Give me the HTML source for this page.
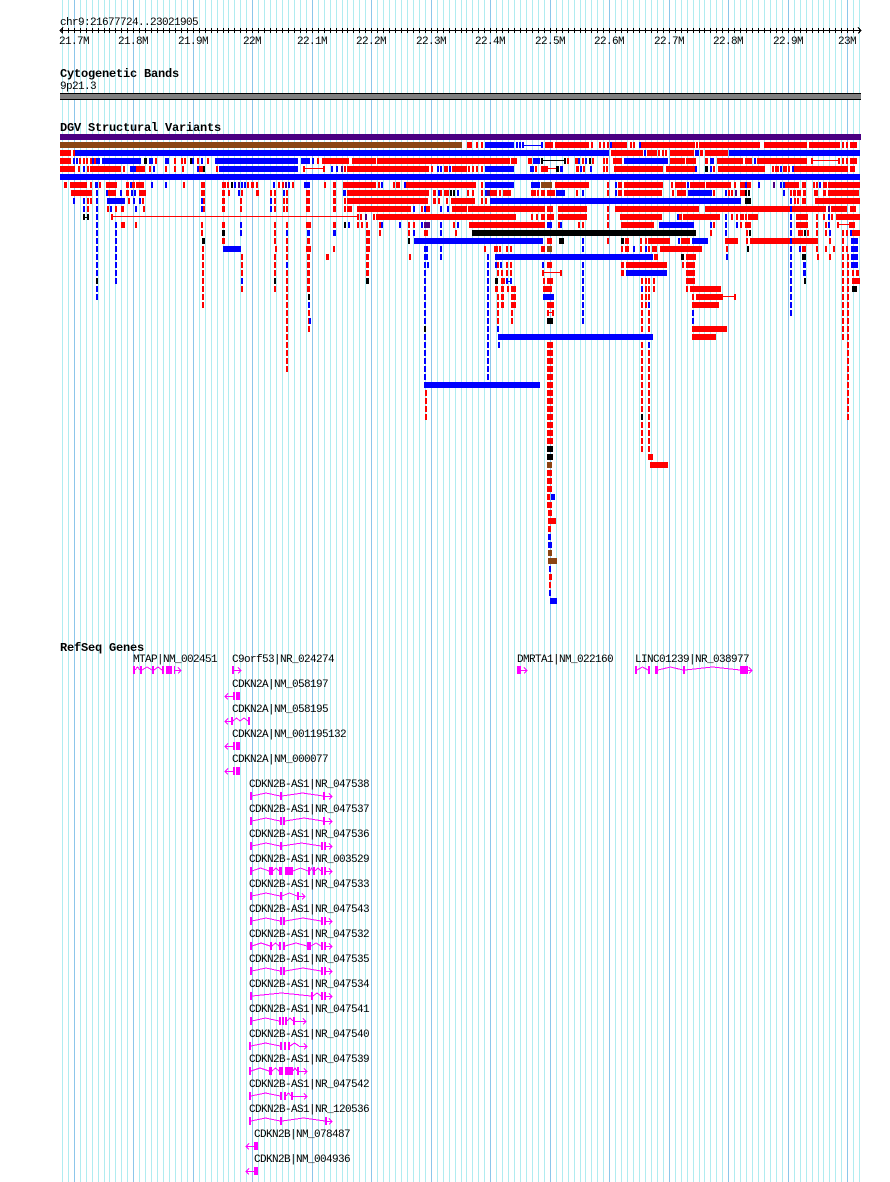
<!DOCTYPE html>
<html><head><meta charset="utf-8"><style>
html,body{margin:0;padding:0;background:#fff;}
svg{display:block;}
.t{font-family:"Liberation Mono",monospace;font-size:11px;letter-spacing:-0.6px;fill:#000;}
.b{font-family:"Liberation Mono",monospace;font-size:12px;font-weight:bold;letter-spacing:-0.2px;fill:#000;}
</style></head><body>
<svg width="890" height="1182" viewBox="0 0 890 1182" xmlns="http://www.w3.org/2000/svg" shape-rendering="crispEdges">
<defs>
<path id="mn" d="M62 0V1182M68 0V1182M80 0V1182M86 0V1182M92 0V1182M98 0V1182M104 0V1182M109 0V1182M115 0V1182M121 0V1182M127 0V1182M139 0V1182M145 0V1182M151 0V1182M157 0V1182M163 0V1182M169 0V1182M175 0V1182M181 0V1182M187 0V1182M199 0V1182M205 0V1182M211 0V1182M217 0V1182M223 0V1182M228 0V1182M234 0V1182M240 0V1182M246 0V1182M258 0V1182M264 0V1182M270 0V1182M276 0V1182M282 0V1182M288 0V1182M294 0V1182M300 0V1182M306 0V1182M318 0V1182M324 0V1182M330 0V1182M336 0V1182M342 0V1182M347 0V1182M353 0V1182M359 0V1182M365 0V1182M377 0V1182M383 0V1182M389 0V1182M395 0V1182M401 0V1182M407 0V1182M413 0V1182M419 0V1182M425 0V1182M437 0V1182M443 0V1182M449 0V1182M455 0V1182M461 0V1182M466 0V1182M472 0V1182M478 0V1182M484 0V1182M496 0V1182M502 0V1182M508 0V1182M514 0V1182M520 0V1182M526 0V1182M532 0V1182M538 0V1182M544 0V1182M556 0V1182M562 0V1182M568 0V1182M574 0V1182M580 0V1182M585 0V1182M591 0V1182M597 0V1182M603 0V1182M615 0V1182M621 0V1182M627 0V1182M633 0V1182M639 0V1182M645 0V1182M651 0V1182M657 0V1182M663 0V1182M675 0V1182M681 0V1182M687 0V1182M693 0V1182M699 0V1182M704 0V1182M710 0V1182M716 0V1182M722 0V1182M734 0V1182M740 0V1182M746 0V1182M752 0V1182M758 0V1182M764 0V1182M770 0V1182M776 0V1182M782 0V1182M794 0V1182M800 0V1182M806 0V1182M812 0V1182M818 0V1182M823 0V1182M829 0V1182M835 0V1182M841 0V1182M853 0V1182M859 0V1182"/>
<path id="mj" d="M74 0V1182M133 0V1182M193 0V1182M252 0V1182M312 0V1182M371 0V1182M431 0V1182M490 0V1182M550 0V1182M609 0V1182M669 0V1182M728 0V1182M788 0V1182M847 0V1182"/>
<clipPath id="tk"><rect x="60" y="28" width="801" height="5"/></clipPath>
</defs>
<rect width="890" height="1182" fill="#fff"/>
<g transform="translate(.5 0)" fill="none">
<use href="#mn" stroke="#b0ecf0"/>
<use href="#mj" stroke="#8cc6ea"/>
</g>
<g transform="translate(.5 0)" fill="none" clip-path="url(#tk)">
<use href="#mn" stroke="#000"/>
<use href="#mj" stroke="#000"/>
</g>
<path d="M60 30.5H861M63 27.5L60 30.5L63 33.5M858 27.5L861 30.5L858 33.5" stroke="#000" fill="none"/>

<text class="t" x="60" y="25">chr9:21677724..23021905</text>
<g class="t" text-anchor="middle">
<text x="74" y="44">21.7M</text><text x="133" y="44">21.8M</text><text x="193" y="44">21.9M</text><text x="252" y="44">22M</text><text x="312" y="44">22.1M</text><text x="371" y="44">22.2M</text><text x="431" y="44">22.3M</text><text x="490" y="44">22.4M</text><text x="550" y="44">22.5M</text><text x="609" y="44">22.6M</text><text x="669" y="44">22.7M</text><text x="728" y="44">22.8M</text><text x="788" y="44">22.9M</text><text x="847" y="44">23M</text>
</g>

<text class="b" x="60" y="77">Cytogenetic Bands</text>
<text class="t" x="60" y="89">9p21.3</text>
<rect x="60" y="93" width="801" height="7" fill="#000"/>
<rect x="60" y="94" width="801" height="5" fill="#808080"/>

<text class="b" x="60" y="131">DGV Structural Variants</text>

<!-- RED -->
<path fill="none" stroke="#ff0000" stroke-width="6" d="M467 145h5M476 145h2M481 145h2M545 145h8M555 145h34M591 145h2M599 145h2M603 145h2M607 145h2M612 145h15M630 145h2M633 145h2M641 145h54M696 145h2M699 145h61M764 145h43M809 145h31M842 145h2M846 145h2M850 145h7
M60 153h11M73 153h2M611 153h32M647 153h10M658 153h2M662 153h2M665 153h2M670 153h24M700 153h3M705 153h23
M60 161h11M79 161h2M83 161h2M86 161h2M90 161h2M94 161h2M155 161h2M174 161h2M181 161h2M184 161h2M197 161h2M207 161h2M317 161h2M322 161h27M352 161h24M377 161h133M511 161h6M528 161h4M567 161h2M575 161h3M582 161h2M592 161h2M603 161h2M606 161h2M613 161h9M670 161h15M686 161h10M705 161h3M717 161h26M745 161h7M757 161h50M811 161h2M838 161h2M842 161h2M846 161h2M850 161h7
M60 169h15M78 169h2M87 169h2M90 169h31M123 169h2M136 169h9M149 169h2M165 169h2M174 169h2M182 169h2M199 169h4M216 169h2M303 169h2M323 169h2M344 169h2M347 169h82M431 169h2M444 169h4M452 169h15M468 169h2M472 169h2M476 169h2M481 169h2M535 169h2M541 169h7M576 169h3M583 169h2M603 169h2M606 169h2M614 169h49M666 169h29M713 169h2M718 169h47M772 169h2M775 169h4M783 169h4M788 169h2M794 169h54M850 169h5
M64 185h3M70 185h17M90 185h2M99 185h2M106 185h11M126 185h3M132 185h3M136 185h8M183 185h2M201 185h4M222 185h4M227 185h2M247 185h2M251 185h3M256 185h2M278 185h2M282 185h2M292 185h2M324 185h2M333 185h3M343 185h33M378 185h2M393 185h2M396 185h4M406 185h70M481 185h2M555 185h34M607 185h2M618 185h4M624 185h39M671 185h2M675 185h11M690 185h15M706 185h25M734 185h2M740 185h5M747 185h4M785 185h14M802 185h4M813 185h2M816 185h2M823 185h4M828 185h32
M71 193h21M108 193h8M126 193h3M139 193h7M201 193h4M222 193h3M228 193h2M241 193h2M256 193h3M270 193h2M274 193h2M286 193h2M306 193h4M333 193h3M347 193h82M433 193h3M440 193h2M444 193h5M467 193h2M472 193h2M481 193h2M490 193h7M499 193h2M503 193h8M531 193h5M537 193h2M541 193h4M547 193h8M576 193h2M607 193h2M618 193h4M624 193h38M672 193h2M677 193h9M713 193h2M728 193h2M731 193h2M740 193h6M790 193h2M793 193h3M797 193h4M803 193h3M814 193h4M823 193h3M828 193h31
M87 201h2M90 201h2M128 201h2M142 201h2M203 201h2M222 201h3M240 201h2M274 201h2M283 201h2M286 201h2M306 201h4M333 201h3M344 201h2M347 201h81M433 201h3M438 201h2M446 201h2M451 201h24M481 201h2M485 201h2M794 201h2M797 201h2M802 201h4M815 201h45
M87 209h2M107 209h2M115 209h2M121 209h3M143 209h2M203 209h2M222 209h3M240 209h2M274 209h2M283 209h2M286 209h2M306 209h4M333 209h3M344 209h2M347 209h5M357 209h54M421 209h2M426 209h4M452 209h15M468 209h77M547 209h6M558 209h29M607 209h2M615 209h84M705 209h121M831 209h16M850 209h6
M111 217h2M357 217h2M360 217h2M373 217h2M376 217h140M531 217h2M536 217h2M541 217h4M547 217h7M558 217h29M607 217h2M620 217h42M679 217h3M683 217h37M731 217h2M736 217h2M740 217h4M745 217h2M748 217h10M796 217h12M816 217h2M823 217h2M831 217h2M836 217h24
M121 225h4M135 225h2M201 225h2M222 225h3M274 225h2M286 225h2M306 225h5M333 225h3M357 225h2M361 225h2M366 225h2M379 225h2M408 225h2M413 225h2M453 225h2M469 225h76M558 225h2M578 225h2M582 225h2M607 225h2M621 225h33M713 225h2M740 225h2M745 225h6M796 225h12M816 225h2M825 225h2M837 225h2M849 225h2M851 225h4
M201 233h2M274 233h2M366 233h4M379 233h2M408 233h2M424 233h4M455 233h2M710 233h2M746 233h2M798 233h5M807 233h2M816 233h2M825 233h2M842 233h2M846 233h2M852 233h8
M222 241h3M274 241h2M286 241h2M307 241h3M366 241h4M547 241h5M607 241h2M625 241h4M640 241h2M645 241h2M648 241h22M681 241h9M725 241h13M746 241h2M750 241h68M829 241h2M842 241h2
M202 249h2M275 249h2M286 249h2M306 249h5M333 249h2M366 249h4M484 249h2M494 249h4M499 249h2M506 249h2M510 249h2M541 249h4M621 249h2M625 249h4M640 249h2M648 249h2M652 249h5M660 249h42M726 249h2M802 249h4M816 249h2M825 249h2M833 249h2M842 249h2M846 249h2
M326 257h3M409 257h2M654 257h4M686 257h10M817 257h2M829 257h2
M497 265h2M506 265h2M510 265h2M547 265h5M621 265h3M626 265h41M682 265h2M686 265h9
M497 273h2M501 273h2M506 273h2M510 273h2M542 273h2M560 273h2M621 273h3M686 273h9M852 273h2M856 273h3
M501 281h4M543 281h2M547 281h6M653 281h2M686 281h9M852 281h8
M495 289h3M501 289h3M507 289h2M511 289h5M543 289h9M653 289h2M686 289h2M690 289h31
M497 297h2M501 297h3M511 297h5M692 297h2M696 297h27M734 297h2
M497 305h2M501 305h3M511 305h5M547 305h7M692 305h27
M497 313h2M511 313h2M547 313h2M552 313h2
M497 321h2M511 321h2
M692 329h35M692 337h24
M649 457h4M650 465h18
M547 473h5M547 481h5M547 489h5M547 497h3M547 505h5M548 513h4M548 521h8M548 529h3M549 577h3M549 585h2"/>
<path fill="none" stroke="#ff0000" stroke-width="1" d="M811 160.5h29M305 168.5h18M548 168.5h8M113 216.5h244M837 224.5h13M542 272.5h20M723 296.5h12M549 312.5h3"/>
<path fill="none" stroke="#ff0000" stroke-width="2" stroke-dasharray="6 2" d="M203 254V308M242 254V292M275 254V292M287 254V372M646 278V308M642 278V452M649 278V460M848 254V420M843 254V340M426 390V420M309 294V332"/>
<path fill="none" stroke="#ff0000" stroke-width="3" stroke-dasharray="6 2" d="M308.5 254V292M367.5 254V276"/>
<path fill="none" stroke="#ff0000" stroke-width="6" stroke-dasharray="6 2" d="M550 342V460"/>

<!-- BLUE -->
<path fill="none" stroke="#0000ff" stroke-width="2" stroke-dasharray="6 2" d="M97 182V300M116 222V284M425 262V380M488 254V380M583 238V324M791 198V316"/>
<path fill="none" stroke="#0000ff" stroke-width="6" d="M485 145h29M516 145h2M519 145h2M522 145h2M541 145h2M610 145h2M639 145h2
M75 153h534M644 153h2M695 153h4M729 153h131
M73 161h2M76 161h2M92 161h2M96 161h4M102 161h39M149 161h4M165 161h4M192 161h2M201 161h2M215 161h83M301 161h9M312 161h2M533 161h7M578 161h2M585 161h2M624 161h44M710 161h4M754 161h2
M83 169h2M130 169h6M153 169h2M197 169h2M219 169h79M331 169h2M336 169h2M437 169h2M440 169h2M449 169h2M485 169h29M530 169h4M560 169h3M580 169h2M590 169h2M695 169h2M710 169h2M780 169h2M792 169h2
M60 177h800
M95 185h3M130 185h2M151 185h2M165 185h2M234 185h2M241 185h2M244 185h2M273 185h2M288 185h2M304 185h6M381 185h2M404 185h2M485 185h29M531 185h9M615 185h2M687 185h2M745 185h2M758 185h2M780 185h2M783 185h2M819 185h2
M106 193h2M120 193h2M131 193h2M134 193h2M238 193h2M283 193h2M343 193h3M438 193h2M457 193h2M485 193h2M556 193h9M582 193h2M615 193h2M688 193h24M725 193h2M783 193h2
M73 201h2M83 201h2M107 201h18M133 201h2M139 201h2M201 201h2M270 201h2M490 201h251
M83 209h2M110 209h2M135 209h2M201 209h2M270 209h2M413 209h2M424 209h2M440 209h2M447 209h2
M677 217h2M725 217h2M828 217h2
M240 225h2M348 225h2M381 225h2M399 225h2M421 225h2M440 225h2M457 225h2M547 225h5M560 225h2M659 225h35M710 225h2M725 225h2M736 225h2M828 225h2
M240 233h2M286 233h2M307 233h3M333 233h3M413 233h2M440 233h2M725 233h2M829 233h2M850 233h2
M414 241h129M678 241h2M692 241h16M851 241h7
M223 249h18M424 249h4M440 249h2M633 249h2M645 249h2M799 249h2M851 249h7
M424 257h4M440 257h2M495 257h158M726 257h2M851 257h7
M424 265h2M427 265h2M495 265h2M500 265h2M542 265h2M851 265h7M286 265h2M803 265h3
M626 273h41M803 273h3
M506 281h2M510 281h2M241 281h2
M641 289h2M543 297h11M308 305h2M648 305h2M692 313h2M692 321h2M309 321h2M497 329h2
M498 337h155M498 345h2M648 345h2M424 385h116
M551 497h4M548 537h3M548 545h4M549 569h2M549 593h2M550 601h7"/>
<path fill="none" stroke="#0000ff" stroke-width="1" d="M522 145.5h21M506 281.5h6"/>

<!-- BLACK -->
<path fill="none" stroke="#000" stroke-width="6" d="M144 161h3M190 161h2M589 161h2M541 161h2M564 161h2M203 169h2M556 169h3M705 169h3M231 185h2M450 193h2M453 193h2M745 193h2M748 193h2M745 201h6M83 217h2M87 217h2M344 225h2M222 233h3M472 233h224M749 233h2M804 233h2M202 241h3M408 241h2M559 241h5M621 241h3M747 249h2M681 257h3M802 257h4M495 281h3M804 281h2M96 281h2M274 281h2M366 281h3M852 289h5M308 297h2M547 321h6M424 329h2M641 417h2M547 449h6M547 457h6"/>
<path fill="none" stroke="#000" stroke-width="1" d="M541 160.5h25M83 217.5h6"/>

<!-- BROWN / PURPLE -->
<path fill="none" stroke="#8b4513" stroke-width="6" d="M60 145h402M541 185h11M547 249h5M547 465h5M548 553h4M548 561h9"/>
<path fill="none" stroke="#4b0082" stroke-width="6" d="M60 137h801M341 169h2M238 185h2M285 185h2M773 185h2M487 193h3M735 193h2M828 209h2M365 217h2M424 225h6"/>

<!-- GENES -->
<text class="b" x="60" y="651">RefSeq Genes</text>
<g class="t">
<text x="133" y="662">MTAP|NM_002451</text>
<text x="232" y="662">C9orf53|NR_024274</text>
<text x="517" y="662">DMRTA1|NM_022160</text>
<text x="635" y="662">LINC01239|NR_038977</text>
<text x="232" y="687">CDKN2A|NM_058197</text>
<text x="232" y="712">CDKN2A|NM_058195</text>
<text x="232" y="737">CDKN2A|NM_001195132</text>
<text x="232" y="762">CDKN2A|NM_000077</text>
<text x="249" y="787">CDKN2B-AS1|NR_047538</text>
<text x="249" y="812">CDKN2B-AS1|NR_047537</text>
<text x="249" y="837">CDKN2B-AS1|NR_047536</text>
<text x="249" y="862">CDKN2B-AS1|NR_003529</text>
<text x="249" y="887">CDKN2B-AS1|NR_047533</text>
<text x="249" y="912">CDKN2B-AS1|NR_047543</text>
<text x="249" y="937">CDKN2B-AS1|NR_047532</text>
<text x="249" y="962">CDKN2B-AS1|NR_047535</text>
<text x="249" y="987">CDKN2B-AS1|NR_047534</text>
<text x="249" y="1012">CDKN2B-AS1|NR_047541</text>
<text x="249" y="1037">CDKN2B-AS1|NR_047540</text>
<text x="249" y="1062">CDKN2B-AS1|NR_047539</text>
<text x="249" y="1087">CDKN2B-AS1|NR_047542</text>
<text x="249" y="1112">CDKN2B-AS1|NR_120536</text>
<text x="254" y="1137">CDKN2B|NM_078487</text>
<text x="254" y="1162">CDKN2B|NM_004936</text>
</g>
<path fill="none" stroke="#ff00ff" stroke-width="8" d="M133 670h2M140 670h2M152 670h2M162 670h2M166 670h6M174 670h1
M232 670h2M517 670h4
M635 670h2M648 670h2M655 670h3M683 670h2M740 670h8
M233 696h2M236 696h4
M231 721h2M248 721h2
M233 746h2M236 746h4
M233 771h2M236 771h4
M250 796h2M280 796h2M323 796h2
M250 821h2M280 821h2M283 821h2M323 821h2
M250 846h2M280 846h2M321 846h2M324 846h2
M250 871h2M269 871h4M279 871h3M285 871h8M308 871h2M313 871h2M321 871h2M324 871h2
M250 896h2M280 896h2M297 896h2
M250 921h2M280 921h2M283 921h2M321 921h2M324 921h2
M250 946h2M270 946h2M279 946h2M283 946h2M307 946h4M321 946h2M324 946h2
M250 971h2M280 971h2M283 971h2M321 971h2M324 971h2
M250 996h2M311 996h2M321 996h2M324 996h2
M250 1021h2M279 1021h2M282 1021h2M285 1021h2M293 1021h2
M249 1046h2M280 1046h2M284 1046h2M288 1046h2
M249 1071h2M269 1071h3M279 1071h4M285 1071h8M297 1071h2
M249 1096h2M280 1096h2M284 1096h2M291 1096h2
M249 1121h2M280 1121h2M325 1121h2
M254 1146h4M254 1171h4"/>
<path fill="none" stroke="#ff00ff" stroke-width="1" d="M135 670L137.5 667L140 670M142 670L147 667L152 670M154 670L158 667L162 670M175 670.5H181M178 667.5L181 670.5L178 673.5
M234 670.5H241M238 667.5L241 670.5L238 673.5
M521 670.5H527M524 667.5L527 670.5L524 673.5
M637 670L642.5 667L648 670M658 670L670.5 667L683 670M685 670L712.5 667L740 670M748 670.5H752M749 667.5L752 670.5L749 673.5
M225 696.5H233M228 693.5L225 696.5L228 699.5
M225 721.5H231M228 718.5L225 721.5L228 724.5M233 721L236.5 718L240 721L244 718L248 721
M225 746.5H233M228 743.5L225 746.5L228 749.5
M225 771.5H233M228 768.5L225 771.5L228 774.5
M252 796L266 793L280 796M282 796L302.5 793L323 796M325 796.5H332M329 793.5L332 796.5L329 799.5
M252 821L266 818L280 821M285 821L304 818L323 821M325 821.5H332M329 818.5L332 821.5L329 824.5
M252 846L266 843L280 846M282 846L301.5 843L321 846M326 846.5H332M329 843.5L332 846.5L329 849.5
M252 871L260.5 868L269 871M273 871L276 868L279 871M293 871L300.5 868L308 871M310 871L311.5 868L313 871M315 871L318 868L321 871M326 871.5H332M329 868.5L332 871.5L329 874.5
M252 896L266 893L280 896M282 896L289.5 893L297 896M299 896.5H305M302 893.5L305 896.5L302 899.5
M252 921L266 918L280 921M285 921L303 918L321 921M326 921.5H332M329 918.5L332 921.5L329 924.5
M252 946L261 943L270 946M272 946L275.5 943L279 946M285 946L296 943L307 946M311 946L316 943L321 946M326 946.5H332M329 943.5L332 946.5L329 949.5
M252 971L266 968L280 971M285 971L303 968L321 971M326 971.5H332M329 968.5L332 971.5L329 974.5
M252 996L281.5 993L311 996M313 996L317 993L321 996M326 996.5H332M329 993.5L332 996.5L329 999.5
M252 1021L265.5 1018L279 1021M287 1021L290 1018L293 1021M295 1021.5H306M303 1018.5L306 1021.5L303 1024.5
M251 1046L265.5 1043L280 1046M290 1046L294.5 1043L299 1046M299 1046.5H307M304 1043.5L307 1046.5L304 1049.5
M251 1071L260 1068L269 1071M272 1071L275.5 1068L279 1071M293 1071L295 1068L297 1071M299 1071.5H307M304 1068.5L307 1071.5L304 1074.5
M251 1096L265.5 1093L280 1096M286 1096L288.5 1093L291 1096M293 1096.5H307M304 1093.5L307 1096.5L304 1099.5
M251 1121L265.5 1118L280 1121M282 1121L303.5 1118L325 1121M327 1121.5H332M329 1118.5L332 1121.5L329 1124.5
M246 1146.5H254M249 1143.5L246 1146.5L249 1149.5
M246 1171.5H254M249 1168.5L246 1171.5L249 1174.5"/>
</svg>
</body></html>
